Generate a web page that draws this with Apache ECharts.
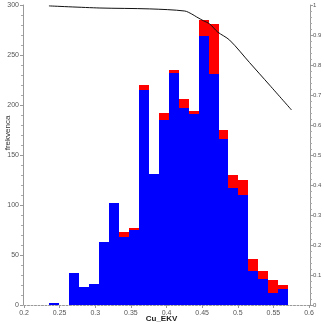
<!DOCTYPE html>
<html>
<head>
<meta charset="utf-8">
<script src="https://cdn.jsdelivr.net/npm/echarts@6/dist/echarts.min.js"></script>
<style>
  html, body { margin: 0; padding: 0; background: #fff; }
  #chart { width: 324px; height: 324px; }
</style>
</head>
<body>
<div id="chart"></div>
<script>
// Histogram bin edges (Cu_EKV)
const binEdges = [0.235, 0.249, 0.263, 0.277, 0.291, 0.305, 0.319, 0.333, 0.347, 0.361,
                  0.375, 0.389, 0.403, 0.417, 0.431, 0.445, 0.459, 0.473, 0.487, 0.501,
                  0.515, 0.529, 0.543, 0.557, 0.571];
// Frequencies per bin: blue part and red part stacked on top
const blueCounts = [2, 0, 32, 18, 21, 63, 102, 68, 75, 215, 131, 185, 232, 197, 191, 269, 231, 166, 117, 110, 34, 26, 12, 16];
const redCounts  = [0, 0, 0, 0, 0, 0, 0, 5, 2, 5, 0, 7, 3, 9, 3, 16, 50, 9, 13, 15, 12, 8, 13, 4];
// Curve on the right axis
const curveX = [0.235, 0.3065, 0.3765, 0.4256, 0.4354, 0.4424, 0.4522, 0.4606, 0.4718, 0.4886, 0.5166, 0.5447, 0.5755];
const curveY = [0.997, 0.990, 0.987, 0.980, 0.970, 0.960, 0.947, 0.937, 0.910, 0.883, 0.808, 0.733, 0.650];

const blueData = blueCounts.map((v, i) => [binEdges[i], binEdges[i + 1], 0, v]);
const redData = redCounts.map((v, i) => [binEdges[i], binEdges[i + 1], blueCounts[i], blueCounts[i] + v]);
const curveData = curveX.map((x, i) => [x, curveY[i]]);

// Rectangles snapped to whole pixels so neighbouring bins meet without seams
function barItem(color) {
  return function (params, api) {
    const lo = api.value(2), hi = api.value(3);
    if (hi <= lo) return null;
    const p0 = api.coord([api.value(0), hi]);
    const p1 = api.coord([api.value(1), lo]);
    const x0 = Math.round(p0[0]), x1 = Math.round(p1[0]);
    const y0 = Math.round(p0[1]), y1 = Math.round(p1[1]);
    return {
      type: 'rect',
      shape: { x: x0, y: y0, width: x1 - x0, height: Math.max(1, y1 - y0) },
      style: { fill: color }
    };
  };
}

const labelStyle = { fontFamily: 'Liberation Sans, Arial, sans-serif', fontSize: 7, color: '#555' };

const chart = echarts.init(document.getElementById('chart'), null, { renderer: 'canvas' });
chart.setOption({
  animation: false,
  backgroundColor: '#fff',
  grid: { left: 24, right: 15, top: 5, bottom: 19, containLabel: false, outerBoundsMode: 'none' },
  xAxis: {
    type: 'value', min: 0.2, max: 0.6, interval: 0.05,
    offset: 2,
    name: 'Cu_EKV', nameLocation: 'middle', nameGap: 8, nameMoveOverlap: false,
    nameTextStyle: { fontFamily: 'Liberation Sans, Arial, sans-serif', fontSize: 8, fontWeight: 'bold', color: '#222', padding: [0, 10, 0, 0] },
    axisLine: { show: true, lineStyle: { color: '#999', width: 1, type: [2, 1.5] } },
    axisTick: { show: true, length: 3, lineStyle: { color: '#999' } },
    minorTick: { show: false },
    axisLabel: Object.assign({ margin: 3 }, labelStyle),
    splitLine: { show: false }
  },
  yAxis: [{
    type: 'value', min: 0, max: 300, interval: 50,
    offset: 1,
    name: 'frekvenca', nameLocation: 'middle', nameGap: 11, nameMoveOverlap: false,
    nameTextStyle: { fontFamily: 'Liberation Sans, Arial, sans-serif', fontSize: 8, color: '#333', padding: [0, 0, 0, 44] },
    axisLine: { show: true, lineStyle: { color: '#999' } },
    axisTick: { show: true, length: 3, lineStyle: { color: '#999' } },
    minorTick: { show: true, splitNumber: 5, length: 2, lineStyle: { color: '#aaa' } },
    axisLabel: Object.assign({ margin: 4 }, labelStyle),
    splitLine: { show: false }
  }, {
    type: 'value', min: 0, max: 1, interval: 0.1,
    position: 'right', offset: 1,
    axisLine: { show: true, lineStyle: { color: '#999' } },
    axisTick: { show: true, length: 3, lineStyle: { color: '#999' } },
    minorTick: { show: true, splitNumber: 5, length: 2, lineStyle: { color: '#aaa' } },
    axisLabel: Object.assign({ margin: 3 }, labelStyle, { fontSize: 6 }),
    splitLine: { show: false }
  }],
  series: [{
    type: 'custom', renderItem: barItem('#0000ff'), data: blueData,
    encode: { x: [0, 1], y: [2, 3] }, z: 2
  }, {
    type: 'custom', renderItem: barItem('#ff0000'), data: redData,
    encode: { x: [0, 1], y: [2, 3] }, z: 2
  }, {
    type: 'line', yAxisIndex: 1, data: curveData, smooth: 0.3,
    symbol: 'none', lineStyle: { color: '#111', width: 1 }, z: 3
  }]
});
</script>
</body>
</html>
